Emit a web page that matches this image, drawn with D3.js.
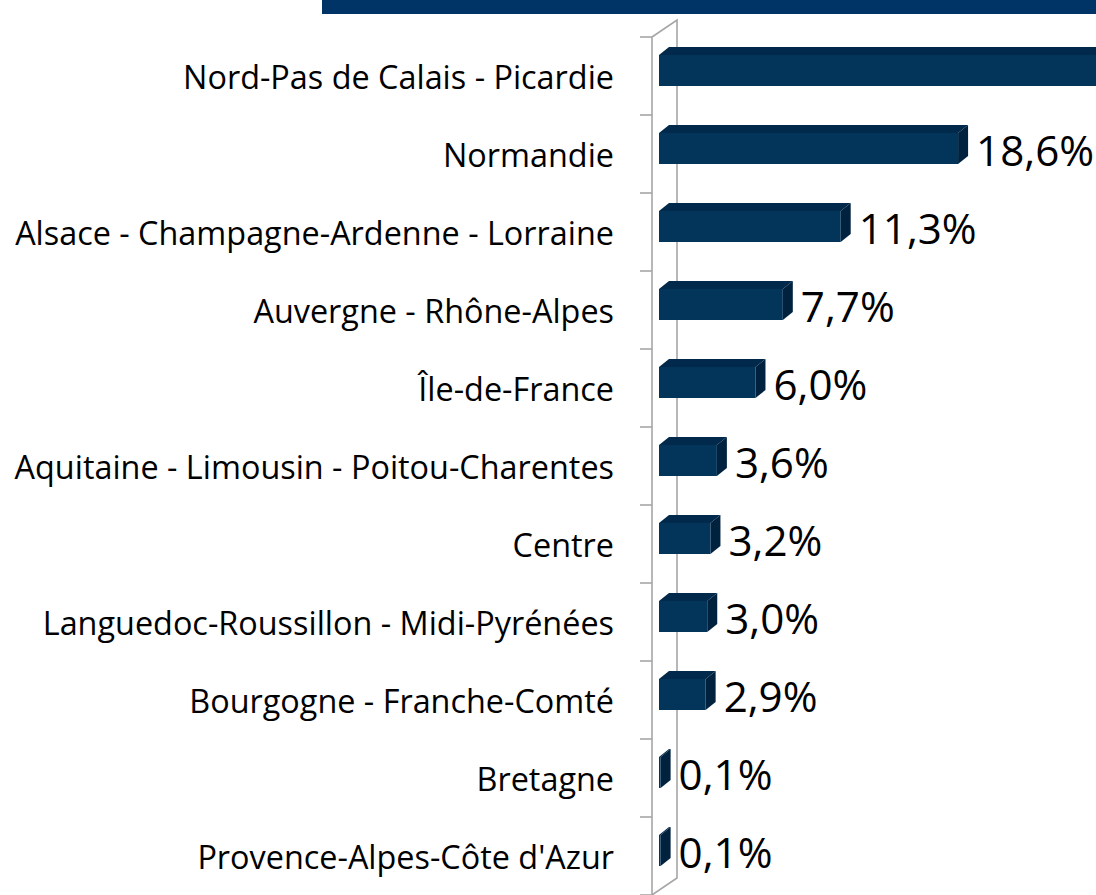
<!DOCTYPE html>
<html><head><meta charset="utf-8">
<script src="https://cdn.jsdelivr.net/npm/d3@7"></script>
<style>html,body{margin:0;padding:0;background:#fff;overflow:hidden}</style>
</head><body>
<svg id="c" width="1096" height="895"></svg>
<script>
const categories = [
  "Nord-Pas de Calais - Picardie",
  "Normandie",
  "Alsace - Champagne-Ardenne - Lorraine",
  "Auvergne - Rhône-Alpes",
  "Île-de-France",
  "Aquitaine - Limousin - Poitou-Charentes",
  "Centre",
  "Languedoc-Roussillon - Midi-Pyrénées",
  "Bourgogne - Franche-Comté",
  "Bretagne",
  "Provence-Alpes-Côte d'Azur"
];
const values = [43.5, 18.6, 11.3, 7.7, 6.0, 3.6, 3.2, 3.0, 2.9, 0.1, 0.1];
const valueLabels = ["43,5%", "18,6%", "11,3%", "7,7%", "6,0%", "3,6%", "3,2%", "3,0%", "2,9%", "0,1%", "0,1%"];

const W = 1096, H = 895;
const svg = d3.select("#c");
const FONT = "'Open Sans', sans-serif";

// banner
svg.append("rect").attr("x", 322).attr("y", 0).attr("width", 774).attr("height", 14).attr("fill", "#003366");

const y = d3.scaleBand().domain(categories).range([37, 895]).padding(0);
const x = d3.scaleLinear().domain([0, 20]).range([659, 659 + 321.6]);

const wallX = 652, dX = 25, dY = -17;
const wall = svg.append("g").attr("stroke", "#a6a6a6").attr("stroke-width", 1.6).attr("fill", "none");
const yTop = y.range()[0], yBot = y.range()[1];
wall.append("path").attr("d",
  `M${wallX},${yTop}L${wallX},${yBot}L${wallX+dX},${yBot+dY}L${wallX+dX},${yTop+dY}Z`);
const boundaries = categories.map(c => y(c)).concat([yBot]);
wall.selectAll("line.tick").data(boundaries).join("line")
  .attr("x1", wallX - 12).attr("x2", wallX).attr("y1", d => d).attr("y2", d => d);

// bars
const bx = 10, by = -8;
const bars = svg.append("g");
categories.forEach((c, i) => {
  const cy = y(c) + y.bandwidth() / 2;
  const x0 = x(0), x1 = x(values[i]);
  const t = cy - 21, b = cy + 10;
  const g = bars.append("g");
  g.append("path").attr("fill", "#01294b")
    .attr("d", `M${x0},${t}L${x0+bx},${t+by}L${x1+bx},${t+by}L${x1},${t}Z`);
  g.append("path").attr("fill", "#01223e")
    .attr("d", `M${x1},${t}L${x1+bx},${t+by}L${x1+bx},${b+by}L${x1},${b}Z`);
  g.append("rect").attr("fill", "#033459").attr("x", x0).attr("y", t).attr("width", Math.max(0, x1 - x0)).attr("height", b - t);
});

function fitSize(text, target, family) {
  const t = svg.append("text").attr("font-family", family).attr("font-size", 100).text(text);
  const w = t.node().getComputedTextLength();
  t.remove();
  return 100 * target / w;
}
const catSize = fitSize("Alsace - Champagne-Ardenne - Lorraine", 599, FONT);
const valSize = fitSize("11,3%", 118, FONT);

svg.append("g").selectAll("text").data(categories).join("text")
  .attr("font-family", FONT).attr("font-size", catSize).attr("fill", "#000")
  .attr("text-anchor", "end")
  .attr("x", 614)
  .attr("y", d => y(d) + y.bandwidth() / 2 + 1 + 0.357 * catSize)
  .text(d => d);

// value labels (the first one lies beyond the right edge in the reference, so it is not drawn)
const shown = categories.map((c, i) => i).filter(i => x(values[i]) + bx + 8 < W - 60);
svg.append("g").selectAll("text").data(shown).join("text")
  .attr("font-family", FONT).attr("font-size", valSize).attr("fill", "#000")
  .attr("x", i => x(values[i]) + bx + 8)
  .attr("y", i => y(categories[i]) + y.bandwidth() / 2 - 3 + 0.357 * valSize)
  .text(i => valueLabels[i]);
</script>
</body></html>
